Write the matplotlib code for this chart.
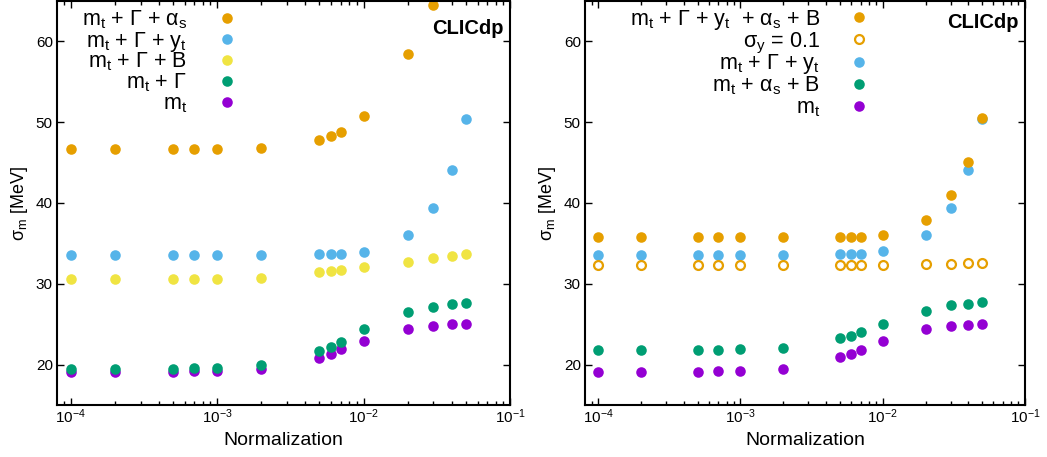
import matplotlib
matplotlib.use("Agg")
import matplotlib.pyplot as plt
from matplotlib.ticker import LogLocator, NullFormatter, NullLocator

plt.rcParams['font.family'] = ['Liberation Sans', 'DejaVu Sans']
plt.rcParams['mathtext.fontset'] = 'custom'
plt.rcParams['mathtext.rm'] = 'Liberation Sans'
plt.rcParams['mathtext.it'] = 'Liberation Sans:italic'
plt.rcParams['mathtext.bf'] = 'Liberation Sans:bold'

# normalization values (x axis)
norm = [1e-4, 2e-4, 5e-4, 7e-4, 1e-3, 2e-3, 5e-3, 6e-3, 7e-3, 1e-2, 2e-2, 3e-2, 4e-2, 5e-2]

# left panel
left_mt_G_as = [46.65, 46.65, 46.65, 46.65, 46.65, 46.85, 47.8, 48.25, 48.75, 50.8, 58.4, 64.55]
left_mt_G_yt = [33.55, 33.55, 33.55, 33.55, 33.55, 33.55, 33.65, 33.65, 33.7, 33.95, 36.0, 39.35, 44.1, 50.4]
left_mt_G_B = [30.65, 30.65, 30.65, 30.65, 30.65, 30.75, 31.4, 31.55, 31.7, 32.1, 32.7, 33.15, 33.5, 33.65]
left_mt_G = [19.5, 19.5, 19.5, 19.6, 19.6, 19.95, 21.65, 22.2, 22.8, 24.35, 26.5, 27.15, 27.45, 27.6]
left_mt = [19.1, 19.1, 19.1, 19.2, 19.2, 19.5, 20.85, 21.35, 21.9, 22.9, 24.45, 24.8, 25.0, 25.05]

# right panel
right_all = [35.8, 35.8, 35.8, 35.8, 35.8, 35.8, 35.75, 35.75, 35.8, 36.05, 37.9, 40.95, 45.1, 50.5]
right_sig_y = [32.3, 32.3, 32.3, 32.3, 32.3, 32.3, 32.3, 32.3, 32.3, 32.35, 32.45, 32.45, 32.6, 32.6]
right_mt_G_yt = [33.6, 33.6, 33.6, 33.6, 33.6, 33.6, 33.7, 33.7, 33.75, 34.0, 36.05, 39.4, 44.05, 50.4]
right_mt_as_B = [21.85, 21.85, 21.85, 21.85, 21.9, 22.1, 23.25, 23.6, 24.05, 25.0, 26.65, 27.35, 27.5, 27.7]
right_mt = [19.1, 19.1, 19.1, 19.2, 19.2, 19.5, 20.9, 21.35, 21.85, 22.9, 24.4, 24.75, 24.9, 25.05]

labelsL = [r'm$_\mathrm{t}$ + Γ + α$_\mathrm{s}$',
           r'm$_\mathrm{t}$ + Γ + y$_\mathrm{t}$',
           r'm$_\mathrm{t}$ + Γ + B',
           r'm$_\mathrm{t}$ + Γ',
           r'm$_\mathrm{t}$']
labelsR = [r'm$_\mathrm{t}$ + Γ + y$_\mathrm{t}$  + α$_\mathrm{s}$ + B',
           r'σ$_\mathrm{y}$ = 0.1',
           r'm$_\mathrm{t}$ + Γ + y$_\mathrm{t}$',
           r'm$_\mathrm{t}$ + α$_\mathrm{s}$ + B',
           r'm$_\mathrm{t}$']

orange = '#E69F00'
blue = '#56B4E9'
yellow = '#F0E442'
green = '#009E73'
purple = '#9400D3'

ms = 7.6

fig = plt.figure(figsize=(10.47, 4.57), dpi=100)
axL = fig.add_axes([57/1047, 52/457, 453/1047, 404/457])
axR = fig.add_axes([585/1047, 52/457, 440/1047, 404/457])


def style(ax):
    ax.set_xscale('log')
    ax.set_xlim(8.07e-5, 0.1)
    ax.set_ylim(15, 65)
    ax.set_yticks([20, 30, 40, 50, 60])
    ax.yaxis.set_minor_locator(NullLocator())
    ax.xaxis.set_major_locator(LogLocator(base=10, numticks=10))
    ax.xaxis.set_minor_locator(LogLocator(base=10, subs=range(2, 10), numticks=10))
    ax.xaxis.set_minor_formatter(NullFormatter())
    ax.tick_params(which='both', direction='in', top=True, right=True, labelsize=11)
    ax.tick_params(which='major', length=5, width=1)
    ax.tick_params(which='minor', length=3, width=1)
    ax.tick_params(axis='x', pad=2)
    ax.tick_params(axis='y', pad=3)
    for s in ax.spines.values():
        s.set_linewidth(1.5)
    ax.set_xlabel('Normalization', fontsize=14, labelpad=4)
    ax.set_ylabel(r'σ$_\mathrm{m}$ [MeV]', fontsize=13, labelpad=4)


def dots(ax, y, color, filled=True):
    xs = norm[:len(y)]
    if filled:
        h, = ax.plot(xs, y, 'o', ms=ms, color=color, mec='none')
    else:
        h, = ax.plot(xs, y, 'o', ms=ms - 1.2, mfc='white', mec=color, mew=1.6)
    return h


def key(ax, handles, labels, xt, xm, y0, dy):
    # gnuplot-like key: right aligned text, symbol on the right
    for i, (h, lab) in enumerate(zip(handles, labels)):
        y = y0 - i * dy
        ax.text(xt, y - 0.0185, lab, transform=ax.transAxes, ha='right',
                va='baseline', fontsize=15.5)
        ax.plot([xm], [y], 'o', transform=ax.transAxes, clip_on=False,
                ms=h.get_markersize(), mfc=h.get_markerfacecolor(),
                mec=h.get_markeredgecolor(), mew=h.get_markeredgewidth())


# left panel
style(axL)
hL5 = dots(axL, left_mt, purple)
hL4 = dots(axL, left_mt_G, green)
hL3 = dots(axL, left_mt_G_B, yellow)
hL2 = dots(axL, left_mt_G_yt, blue)
hL1 = dots(axL, left_mt_G_as, orange)
key(axL, [hL1, hL2, hL3, hL4, hL5], labelsL, 0.287, 0.375, 0.957, 0.0516)
axL.text(0.985, 0.933, 'CLICdp', transform=axL.transAxes, ha='right', va='center',
         fontsize=14.5, fontweight='bold')

# right panel
style(axR)
hR5 = dots(axR, right_mt, purple)
hR4 = dots(axR, right_mt_as_B, green)
hR3 = dots(axR, right_mt_G_yt, blue)
hR2 = dots(axR, right_sig_y, orange, filled=False)
hR1 = dots(axR, right_all, orange)
key(axR, [hR1, hR2, hR3, hR4, hR5], labelsR, 0.534, 0.623, 0.960, 0.0552)
axR.text(0.985, 0.948, 'CLICdp', transform=axR.transAxes, ha='right', va='center',
         fontsize=14.5, fontweight='bold')

fig.savefig('out.png', dpi=100)
